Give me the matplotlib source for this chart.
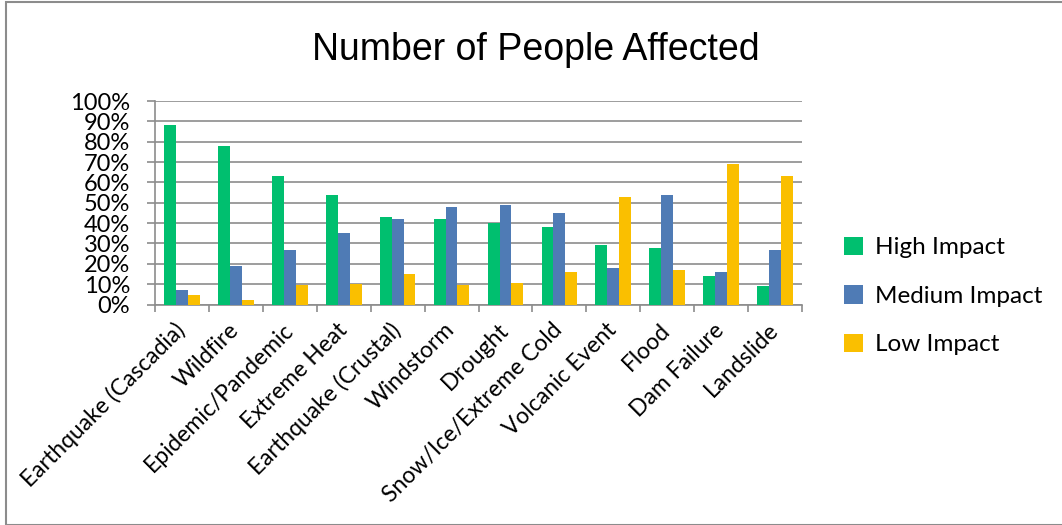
import matplotlib.pyplot as plt
import numpy as np
from matplotlib.patches import Rectangle, Patch

# Hazard categories and share of respondents per impact level (%)
hazards = ['Earthquake (Cascadia)', 'Wildfire', 'Epidemic/Pandemic', 'Extreme Heat',
           'Earthquake (Crustal)', 'Windstorm', 'Drought', 'Snow/Ice/Extreme Cold',
           'Volcanic Event', 'Flood', 'Dam Failure', 'Landslide']
high_impact = [88, 78, 63, 54, 43, 42, 40, 38, 29, 28, 14, 9]
medium_impact = [7, 19, 27, 35, 42, 48, 49, 45, 18, 54, 16, 27]
low_impact = [4.5, 2, 9.5, 10, 15, 9.5, 10.5, 16, 53, 17, 69, 63]

series_names = ['High Impact', 'Medium Impact', 'Low Impact']
colors = ['#00BF6F', '#4F7BB5', '#FABF00']
grid_color = '#8C8C8C'
font = ['Lato', 'DejaVu Sans']

fig = plt.figure(figsize=(10.62, 5.25), dpi=100)
ax = fig.add_axes([155 / 1062, 1 - 304.5 / 525, 647 / 1062, 203.5 / 525])

x = np.arange(len(hazards))
bw = 0.22
for i, (vals, col) in enumerate(zip([high_impact, medium_impact, low_impact], colors)):
    ax.bar(x + (i - 1) * bw, vals, width=bw, color=col, zorder=3)

ax.set_xlim(-0.5, len(hazards) - 0.5)
ax.set_ylim(0, 100)

# y axis: percent ticks with horizontal grid
ax.set_yticks(np.arange(0, 101, 10))
ax.set_yticklabels([f'{v}%' for v in range(0, 101, 10)], family=font, fontsize=17)
ax.yaxis.grid(True, color=grid_color, linewidth=1.2, zorder=0)
ax.tick_params(axis='y', length=6, width=1.2, color=grid_color, pad=12)

# x axis: ticks on category boundaries, labels at centers
ax.set_xticks(np.arange(-0.5, len(hazards), 1))
ax.set_xticklabels([])
ax.set_xticks(x, minor=True)
ax.set_xticklabels(hazards, minor=True, rotation=45, ha='right', va='center',
                   rotation_mode='anchor', family=font, fontsize=16.5)
ax.tick_params(axis='x', which='major', length=5, width=1.2, color=grid_color)
ax.tick_params(axis='x', which='minor', length=0, pad=16)

for side in ['top', 'right']:
    ax.spines[side].set_visible(False)
for side in ['left', 'bottom']:
    ax.spines[side].set_color(grid_color)
    ax.spines[side].set_linewidth(1.2)

fig.text(536 / 1062, 1 - 59.5 / 525, 'Number of People Affected', ha='center',
         va='baseline', family=['Liberation Sans', 'DejaVu Sans'], fontsize=27)

handles = [Patch(facecolor=c, label=n) for c, n in zip(colors, series_names)]
fig.legend(handles=handles, loc='center left', bbox_to_anchor=(822 / 1062, 1 - 296 / 525),
           frameon=False, prop={'family': font, 'size': 17.5}, handlelength=0.8,
           handleheight=0.8, handletextpad=0.5, labelspacing=1.1)

# outer chart border
fig.patches.append(Rectangle((6 / 1062, 0.5 / 525), 1.2, 1 - 5.5 / 525 - 0.5 / 525 + 4 / 525,
                             transform=fig.transFigure, fill=False,
                             edgecolor='#8C8C8C', linewidth=1.5))

fig.savefig('out.png', dpi=100)
